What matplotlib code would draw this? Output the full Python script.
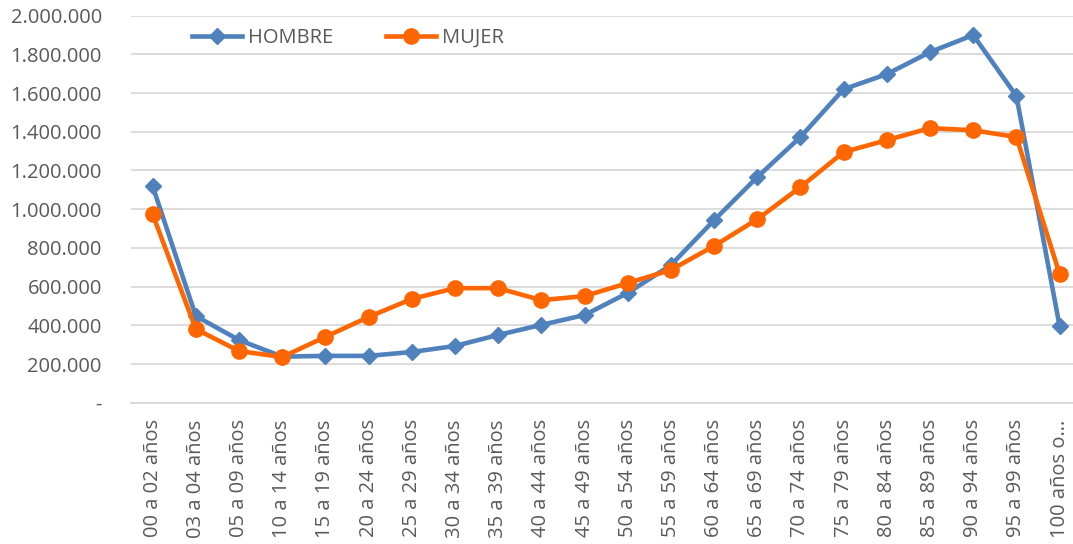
import matplotlib
matplotlib.use("Agg")
import matplotlib.pyplot as plt
from matplotlib.ticker import FuncFormatter

categories = ["00 a 02 años", "03 a 04 años", "05 a 09 años", "10 a 14 años", "15 a 19 años",
              "20 a 24 años", "25 a 29 años", "30 a 34 años", "35 a 39 años", "40 a 44 años",
              "45 a 49 años", "50 a 54 años", "55 a 59 años", "60 a 64 años", "65 a 69 años",
              "70 a 74 años", "75 a 79 años", "80 a 84 años", "85 a 89 años", "90 a 94 años",
              "95 a 99 años", "100 años o…"]

hombre = [1120000, 448000, 324000, 238000, 242000, 242000, 262000, 293000, 350000, 402000,
          453000, 567000, 711000, 943000, 1166000, 1373000, 1620000, 1698000, 1812000, 1900000,
          1585000, 396000]
mujer = [974000, 381000, 267000, 236000, 340000, 443000, 536000, 592000, 592000, 530000,
         551000, 618000, 686000, 810000, 948000, 1114000, 1295000, 1357000, 1419000, 1408000,
         1373000, 665000]

plt.rcParams['font.family'] = ['Open Sans', 'DejaVu Sans']

fig = plt.figure(figsize=(10.73, 5.44), dpi=100)
n = len(categories)
left_px = 131
step = (1061 - 154) / (n - 1)
width_px = step * n
ax = fig.add_axes([left_px / 1073, (544 - 402.7) / 544, width_px / 1073, (402.7 - 15.7) / 544])

x = list(range(n))
ax.plot(x, hombre, color='#4F81BD', lw=3.3, marker='D', ms=8, label='HOMBRE', zorder=3)
ax.plot(x, mujer, color='#FF6600', lw=3.3, marker='o', ms=11, label='MUJER', zorder=4)

ax.set_xlim(-0.5, n - 0.5)
ax.set_ylim(0, 2000000)
ax.set_yticks(range(0, 2000001, 200000))

def fmt(v, pos):
    if v == 0:
        return '-'
    return f"{int(v):,}".replace(',', '.')

ax.yaxis.set_major_formatter(FuncFormatter(fmt))
ax.set_xticks(x)
ax.set_xticklabels(categories, rotation=90, va='top', ha='center')
ax.grid(axis='y', color='#D9D9D9', lw=1.3)
ax.set_axisbelow(True)
for s in ['top', 'right', 'left']:
    ax.spines[s].set_visible(False)
ax.spines['bottom'].set_color('#D9D9D9')
ax.spines['bottom'].set_linewidth(1.3)
ax.tick_params(axis='both', length=0, colors='#595959', labelsize=14.5)
ax.tick_params(axis='y', pad=21)
ax.tick_params(axis='x', pad=12)

leg = ax.legend(loc='upper left', bbox_to_anchor=(0.045, 1.015), ncol=2, frameon=False,
                fontsize=14.5, handlelength=2.5, columnspacing=2.6, handletextpad=0.3)
for t in leg.get_texts():
    t.set_color('#595959')

fig.savefig('out.png', dpi=100)
